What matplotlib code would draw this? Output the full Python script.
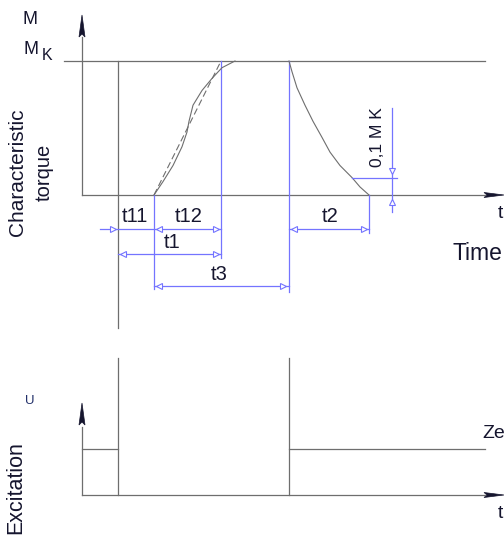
import matplotlib
matplotlib.use('Agg')
import matplotlib.pyplot as plt

plt.rcParams['font.family'] = ['Liberation Sans', 'DejaVu Sans']

# ---- diagram data -------------------------------------------------------
# time axis marks (diagram units, left to right)
t_axis0 = 82
t_exc_off = 118      # excitation switched off
t_rise0 = 154        # torque begins to rise
t_rise_tan = 221     # tangent of rise reaches M_K
t_exc_on = 289       # excitation switched on again
t_decay_end = 369    # torque back to zero
t_axis_end = 485

# torque rise (fraction of M_K)
rise_t = [154, 163, 173, 182, 187, 189, 193, 202, 212, 222, 235]
rise_m = [0.0, 0.10, 0.22, 0.36, 0.47, 0.55, 0.67, 0.78, 0.87, 0.95, 1.0]
# tangent (dashed) line
tan_t = [t_rise0, t_rise_tan]
tan_m = [0.0, 1.0]
# torque decay after excitation is on again
decay_t = [289, 292, 297, 305, 313, 322, 330, 340, 352, 360, 369]
decay_m = [1.0, 0.92, 0.80, 0.67, 0.55, 0.43, 0.32, 0.22, 0.13, 0.06, 0.0]
m_01 = 0.13          # "0,1 M_K" level

# excitation level (fraction of U)
exc_t = [t_axis0, t_exc_off, t_exc_on, t_axis_end]
exc_u = [1.0, 1.0, 1.0, 1.0]

# ---- layout helpers -------------------------------------------------------
TOP_Y0, TOP_H = 195, 134      # torque panel: baseline / height of M_K
BOT_Y0, BOT_H = 495, 46       # excitation panel


def ty(m):
    return TOP_Y0 - TOP_H * m


def by(u):
    return BOT_Y0 - BOT_H * u


GRAY = '#6e6e6e'
BLUE = '#7474ff'
INK = '#15152e'

fig = plt.figure(figsize=(5.04, 5.41), dpi=100)
ax = fig.add_axes([0, 0, 1, 1])
ax.set_xlim(0, 504)
ax.set_ylim(541, 0)
ax.axis('off')

lw = 0.9


def vline(x, y1, y2, c):
    ax.plot([x, x], [y1, y2], color=c, lw=lw)


def hline(y, x1, x2, c):
    ax.plot([x1, x2], [y, y], color=c, lw=lw)


def up_arrow(x, ytip):
    ax.fill([x, x - 3, x, x + 3], [ytip, ytip + 22, ytip + 19, ytip + 22],
            color=INK, lw=0.5)


def right_arrow(xtip, y):
    ax.fill([xtip, xtip - 20, xtip - 17, xtip - 20], [y, y - 2.5, y, y + 2.5],
            color=INK, lw=0.5)


# ---- torque panel --------------------------------------------------------
vline(t_axis0, ty(0), 37, GRAY)
up_arrow(t_axis0, 15)
hline(ty(0), t_axis0, t_axis_end, GRAY)
right_arrow(504, ty(0))
hline(ty(1), 64, t_axis_end, GRAY)

vline(t_exc_off, ty(1), 328, GRAY)
vline(t_rise_tan, ty(1), 258, BLUE)
vline(t_rise0, ty(0), 289, BLUE)
vline(t_exc_on, ty(1), 292, BLUE)
vline(t_decay_end, ty(0), 233, BLUE)

ax.plot(rise_t, [ty(m) for m in rise_m], color=GRAY, lw=0.8)
ax.plot(tan_t, [ty(m) for m in tan_m], color=GRAY, lw=0.8,
        dashes=(6, 3))
ax.plot(decay_t, [ty(m) for m in decay_m], color=GRAY, lw=0.8)

# 0,1 M_K dimension
hline(ty(m_01), 352, 397, BLUE)
vline(392, 108, 212, BLUE)
ax.plot([392], [ty(m_01) - 7], marker='v', ms=4, mfc='white', mec=BLUE, mew=0.8)
ax.plot([392], [ty(0) + 7], marker='^', ms=4, mfc='white', mec=BLUE, mew=0.8)

# time dimensions
dims = [
    (229, 100, t_rise_tan, [(113, '>'), (159, '<'), (216, '>')]),
    (254, t_exc_off, t_rise_tan, [(123, '<'), (216, '>')]),
    (286, t_rise0, t_exc_on, [(159, '<'), (283, '>')]),
    (229, t_exc_on, t_decay_end, [(294, '<'), (364, '>')]),
]
for y, x1, x2, marks in dims:
    hline(y, x1, x2, BLUE)
    for xm, mk in marks:
        ax.plot([xm], [y], marker=mk, ms=4, mfc='white', mec=BLUE, mew=0.8)

# ---- excitation panel ----------------------------------------------------
vline(t_axis0, BOT_Y0, 427, GRAY)
up_arrow(t_axis0, 403)
hline(BOT_Y0, t_axis0, t_axis_end, GRAY)
right_arrow(504, BOT_Y0)
vline(t_exc_off, 358, BOT_Y0, GRAY)
vline(t_exc_on, 358, BOT_Y0, GRAY)
hline(by(exc_u[0]), exc_t[0], exc_t[1], GRAY)
hline(by(exc_u[2]), exc_t[2], exc_t[3], GRAY)

# ---- texts ---------------------------------------------------------------
tk = dict(color=INK, ha='center', va='center')
ax.text(30, 20, 'M', fontsize=13, **tk)
ax.text(31, 50, 'M', fontsize=13, **tk)
ax.text(47, 55, 'K', fontsize=11.5, **tk)
ax.text(18, 172, 'Characteristic', fontsize=15, rotation=90, **tk)
ax.text(44, 172, 'torque', fontsize=14.5, rotation=90, **tk)
ax.text(16, 488, 'Excitation', fontsize=15.5, rotation=90, **tk)
ax.text(29.5, 401, 'U', fontsize=9.5, color='#22306a', ha='center', va='center')

ax.text(135, 216, 't11', fontsize=14.5, **tk)
ax.text(189, 216, 't12', fontsize=14.5, **tk)
ax.text(172, 243, 't1', fontsize=14.5, **tk)
ax.text(219, 274, 't3', fontsize=14.5, **tk)
ax.text(330, 217, 't2', fontsize=14.5, **tk)
ax.text(378, 137, '0,1 M K', fontsize=12.5, rotation=90, **tk)

ax.text(500, 214, 't', fontsize=14, **tk)
ax.text(477, 254, 'Time', fontsize=16.5, **tk)
ax.text(482, 434, 'Ze', fontsize=14, color=INK, ha='left', va='center')
ax.text(500, 514, 't', fontsize=14, **tk)

fig.savefig('out.png', dpi=100)
